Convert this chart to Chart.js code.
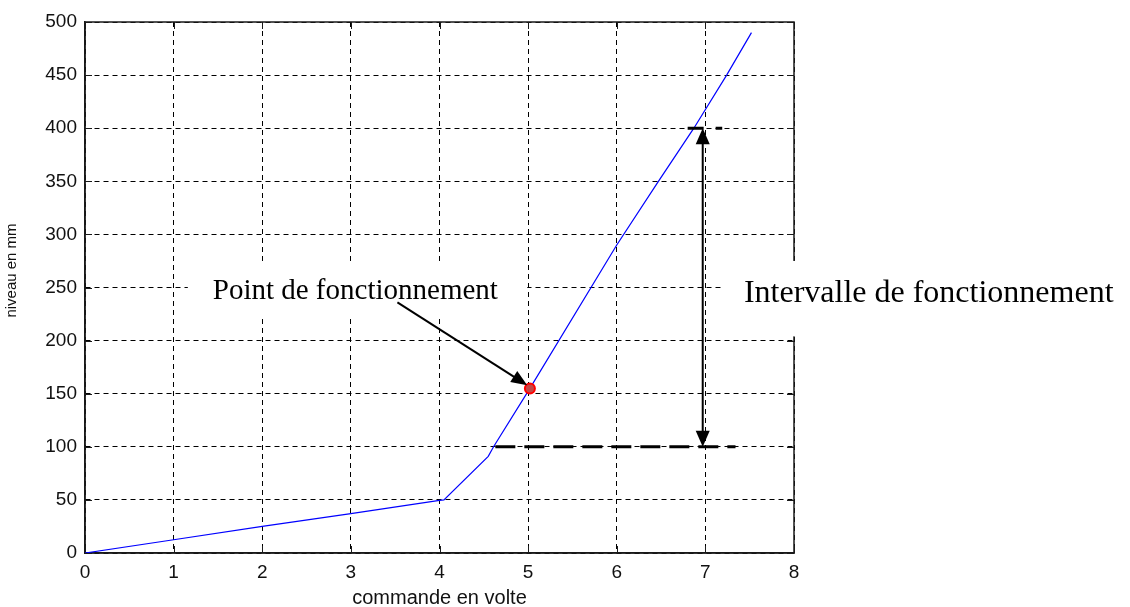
<!DOCTYPE html>
<html>
<head>
<meta charset="utf-8">
<script src="https://cdn.jsdelivr.net/npm/chart.js@4.4.1/dist/chart.umd.min.js"></script>
<style>
  html, body { margin: 0; padding: 0; background: #fff; }
  #wrap { width: 1130px; height: 607px; }
</style>
</head>
<body>
<div id="wrap"><canvas id="c" width="1130" height="607"></canvas></div>
<script>
// Caractéristique statique : niveau (mm) en fonction de la commande (V)
const commandeV = [0, 1, 2, 3, 4, 4.05, 4.55, 4.61, 5.02, 6.0, 6.47, 6.87, 7.24, 7.52];
const niveauMm  = [0, 12.5, 25, 37, 49.5, 50, 91, 100, 155, 290, 350, 400, 450, 490];

// Point de fonctionnement (commande, niveau)
const pointFonct = [5.02, 155];

// Intervalle de fonctionnement : bornes basse et haute du niveau
const intervalleNiveau = [100, 400];
const intervalleCommande = 6.97;

// Graduations
const xTicks = [0, 1, 2, 3, 4, 5, 6, 7, 8];
const yTicks = [0, 50, 100, 150, 200, 250, 300, 350, 400, 450, 500];

// Textes
const labelPoint = 'Point de fonctionnement';
const labelIntervalle = 'Intervalle de fonctionnement';
const titreY = 'niveau en mm';
const titreX = 'commande en volte';

// Ancrages des annotations en unités des axes [x, y]
const pointLabelAt = [3.05, 239];
const pointArrowFrom = [3.525, 236];
const pointArrowTo = [4.99, 158];
const intervalleLabelAt = [9.52, 236];
const pointLabelBox = [1.16, 273, 4.99, 224];
const intervalleLabelBox = [7.2, 275, 11.9, 204];
const basDash = [4.63, 7.34];
const hautDash = [6.80, 7.19];
const titreYAt = [-0.82, 266];

const serie = commandeV.map((v, i) => ({ x: v, y: niveauMm[i] }));

function arrowHead(ctx, x1, y1, x2, y2, len, half) {
  const ang = Math.atan2(y2 - y1, x2 - x1);
  ctx.beginPath();
  ctx.moveTo(x2, y2);
  ctx.lineTo(x2 - len * Math.cos(ang) + half * Math.sin(ang), y2 - len * Math.sin(ang) - half * Math.cos(ang));
  ctx.lineTo(x2 - len * Math.cos(ang) - half * Math.sin(ang), y2 - len * Math.sin(ang) + half * Math.cos(ang));
  ctx.closePath();
  ctx.fill();
}

const annotations = {
  id: 'annotations',
  beforeDatasetsDraw(chart) {
    const { ctx, chartArea: a, scales: { x, y } } = chart;
    ctx.save();
    // cadre plein
    ctx.setLineDash([]);
    ctx.strokeStyle = '#1a1a1a';
    ctx.lineWidth = 1.5;
    ctx.strokeRect(a.left, a.top, a.right - a.left, a.bottom - a.top);
    // graduations intérieures
    ctx.lineWidth = 1;
    ctx.beginPath();
    xTicks.forEach(v => {
      const p = Math.round(x.getPixelForValue(v)) + 0.5;
      ctx.moveTo(p, a.bottom); ctx.lineTo(p, a.bottom - 7);
      ctx.moveTo(p, a.top); ctx.lineTo(p, a.top + 7);
    });
    yTicks.forEach(v => {
      const p = Math.round(y.getPixelForValue(v)) + 0.5;
      ctx.moveTo(a.left, p); ctx.lineTo(a.left + 7, p);
      ctx.moveTo(a.right, p); ctx.lineTo(a.right - 7, p);
    });
    ctx.stroke();
    // fonds blancs derrière les étiquettes
    ctx.fillStyle = '#fff';
    [pointLabelBox, intervalleLabelBox].forEach(b => {
      const x0 = x.getPixelForValue(b[0]), x1 = x.getPixelForValue(b[2]);
      const y0 = y.getPixelForValue(b[1]), y1 = y.getPixelForValue(b[3]);
      ctx.fillRect(x0, y0, x1 - x0, y1 - y0);
    });
    ctx.restore();
  },
  afterDraw(chart) {
    const { ctx, scales: { x, y } } = chart;
    ctx.save();
    ctx.fillStyle = '#000';
    ctx.strokeStyle = '#000';

    // traits pointillés épais aux bornes de l'intervalle
    ctx.lineWidth = 3;
    ctx.setLineDash([20, 9]);
    ctx.beginPath();
    const yb = y.getPixelForValue(intervalleNiveau[0]);
    ctx.moveTo(x.getPixelForValue(basDash[0]), yb);
    ctx.lineTo(x.getPixelForValue(basDash[1]), yb);
    ctx.stroke();
    ctx.setLineDash([16, 12]);
    ctx.beginPath();
    const yh = y.getPixelForValue(intervalleNiveau[1]);
    ctx.moveTo(x.getPixelForValue(hautDash[0]), yh);
    ctx.lineTo(x.getPixelForValue(hautDash[1]), yh);
    ctx.stroke();
    ctx.setLineDash([]);

    // double flèche verticale
    const xi = x.getPixelForValue(intervalleCommande);
    ctx.lineWidth = 2;
    ctx.beginPath();
    ctx.moveTo(xi, yh + 10);
    ctx.lineTo(xi, yb - 10);
    ctx.stroke();
    arrowHead(ctx, xi, yb - 20, xi, yb, 16, 7);
    arrowHead(ctx, xi, yh + 20, xi, yh, 16, 7);

    // flèche vers le point de fonctionnement
    const ax1 = x.getPixelForValue(pointArrowFrom[0]), ay1 = y.getPixelForValue(pointArrowFrom[1]);
    const ax2 = x.getPixelForValue(pointArrowTo[0]), ay2 = y.getPixelForValue(pointArrowTo[1]);
    const ang = Math.atan2(ay2 - ay1, ax2 - ax1);
    ctx.beginPath();
    ctx.moveTo(ax1, ay1);
    ctx.lineTo(ax2 - 10 * Math.cos(ang), ay2 - 10 * Math.sin(ang));
    ctx.stroke();
    arrowHead(ctx, ax1, ay1, ax2, ay2, 16, 6.5);

    // textes des annotations
    ctx.textBaseline = 'alphabetic';
    ctx.textAlign = 'center';
    ctx.font = '29px "Liberation Serif", "Times New Roman", serif';
    ctx.fillText(labelPoint, x.getPixelForValue(pointLabelAt[0]), y.getPixelForValue(pointLabelAt[1]));
    ctx.font = '32px "Liberation Serif", "Times New Roman", serif';
    ctx.fillText(labelIntervalle, x.getPixelForValue(intervalleLabelAt[0]), y.getPixelForValue(intervalleLabelAt[1]));

    // titre de l'axe vertical
    ctx.fillStyle = '#111';
    ctx.font = '15px "Liberation Sans", Arial, sans-serif';
    ctx.textBaseline = 'middle';
    ctx.translate(x.getPixelForValue(titreYAt[0]), y.getPixelForValue(titreYAt[1]));
    ctx.rotate(-Math.PI / 2);
    ctx.fillText(titreY, 0, 0);
    ctx.restore();
  }
};

new Chart(document.getElementById('c'), {
  type: 'line',
  data: {
    datasets: [
      {
        type: 'scatter',
        data: [{ x: pointFonct[0], y: pointFonct[1] }],
        pointRadius: 5,
        pointBorderWidth: 2,
        pointBackgroundColor: '#c44848',
        pointBorderColor: '#ff0000',
        order: 0
      },
      {
        data: serie,
        borderColor: '#0000ff',
        borderWidth: 1.2,
        pointRadius: 0,
        tension: 0,
        fill: false,
        order: 1
      }
    ]
  },
  options: {
    responsive: false,
    animation: false,
    devicePixelRatio: 1,
    layout: { padding: { top: 22, right: 336, left: 0, bottom: 0 } },
    plugins: { legend: { display: false }, tooltip: { enabled: false } },
    scales: {
      x: {
        type: 'linear',
        min: 0, max: 8,
        afterBuildTicks: s => { s.ticks = xTicks.map(v => ({ value: v })); },
        afterFit: s => { s.height = 54; },
        grid: { color: '#000', lineWidth: 1, drawTicks: false },
        border: { display: true, color: '#1a1a1a', width: 1.5, dash: [5, 4] },
        ticks: { color: '#111', padding: 8, maxRotation: 0, font: { family: '"Liberation Sans", Arial, sans-serif', size: 19 } },
        title: { display: true, text: titreX, color: '#111', padding: 0,
                 font: { family: '"Liberation Sans", Arial, sans-serif', size: 20, lineHeight: 0.85 } }
      },
      y: {
        type: 'linear',
        min: 0, max: 500,
        afterBuildTicks: s => { s.ticks = yTicks.map(v => ({ value: v })); },
        afterFit: s => { s.width = 85; },
        grid: { color: '#000', lineWidth: 1, drawTicks: false },
        border: { display: true, color: '#1a1a1a', width: 1.5, dash: [5, 4] },
        ticks: { color: '#111', padding: 8, font: { family: '"Liberation Sans", Arial, sans-serif', size: 19 } },
        title: { display: false }
      }
    }
  },
  plugins: [annotations]
});
</script>
</body>
</html>
